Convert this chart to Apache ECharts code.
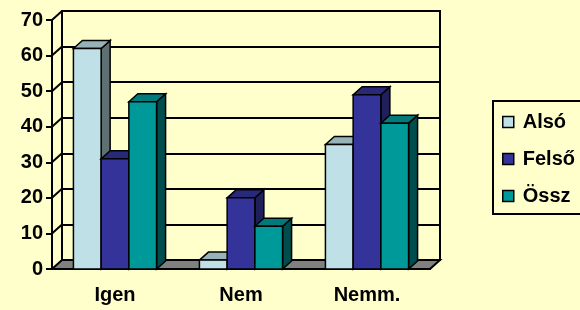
<!DOCTYPE html>
<html>
<head>
<meta charset="utf-8">
<script src="https://cdn.jsdelivr.net/npm/echarts@6/dist/echarts.min.js"></script>
<style>
  html, body { margin: 0; padding: 0; background: #FFFFCC; overflow: hidden; }
  #chart { width: 580px; height: 310px; }
</style>
</head>
<body>
<div id="chart"></div>
<script>
const categories = ["Igen", "Nem", "Nemm."];
const also = [62, 2.5, 35];
const felso = [31, 20, 49];
const ossz = [47, 12, 41];
const yTicks = [0, 10, 20, 30, 40, 50, 60, 70];

// depth of walls / bars
const DX = 10, DY = -9;
const BDX = 9, BDY = -8;
const FONT = "'Liberation Sans', Arial, sans-serif";

const el = document.getElementById("chart");
const chart = echarts.init(el);

function barSeries(name, values, idx, front, side, top) {
    return {
        name: name,
        type: "custom",
        xAxisIndex: 0,
        yAxisIndex: 0,
        itemStyle: { color: front },
        data: values.map((v, i) => [i, v]),
        renderItem: (params, api) => {
            const c = api.value(0);
            const p = api.coord([c, api.value(1)]);
            const p0 = api.coord([c, 0]);
            const bw = api.size([1, 0])[0] * 0.22;
            const left = p[0] + (idx - 1.5) * bw;
            const right = left + bw;
            const st = { stroke: "#000", lineWidth: 1.5 };
            return {
                type: "group",
                children: [
                    { type: "polygon", shape: { points: [[right, p[1]], [right + BDX, p[1] + BDY], [right + BDX, p0[1] + BDY], [right, p0[1]]] },
                      style: Object.assign({ fill: side }, st) },
                    { type: "polygon", shape: { points: [[left, p[1]], [left + BDX, p[1] + BDY], [right + BDX, p[1] + BDY], [right, p[1]]] },
                      style: Object.assign({ fill: top }, st) },
                    { type: "rect", shape: { x: left, y: p[1], width: bw, height: p0[1] - p[1] },
                      style: Object.assign({ fill: front }, st) }
                ]
            };
        }
    };
}

const labelStyle = { color: "#000", fontSize: 20, fontWeight: "bold", fontFamily: FONT };

chart.setOption({
    backgroundColor: "#FFFFCC",
    animation: false,
    grid: [
        { left: 52, right: 150, top: 20, bottom: 41 },
        { left: 62, right: 140, top: 11, bottom: 50, show: true, borderColor: "#000", borderWidth: 2, backgroundColor: "#FFFFCC" }
    ],
    // legend frame runs past the right edge in the original, so no right side
    graphic: [{
        type: "polyline", z: 0,
        shape: { points: [[600, 101], [493, 101], [493, 214], [600, 214]] },
        style: { fill: null, stroke: "#000", lineWidth: 2 }
    }],
    xAxis: [
        {
            type: "category", gridIndex: 0, data: categories,
            axisLine: { lineStyle: { color: "#000", width: 2 } },
            axisTick: { length: 6, lineStyle: { color: "#000", width: 2 } },
            axisLabel: Object.assign({ margin: 16 }, labelStyle)
        },
        { type: "category", gridIndex: 1, data: categories, show: false }
    ],
    yAxis: [
        {
            type: "value", gridIndex: 0, min: 0, max: 70, interval: 10,
            axisLine: { show: true, lineStyle: { color: "#000", width: 2 } },
            axisTick: { show: true, length: 6, lineStyle: { color: "#000", width: 2 } },
            axisLabel: Object.assign({ margin: 9 }, labelStyle),
            splitLine: { show: false }
        },
        {
            type: "value", gridIndex: 1, min: 0, max: 70, interval: 10,
            axisLine: { show: false }, axisTick: { show: false }, axisLabel: { show: false },
            splitLine: { show: true, lineStyle: { color: "#000", width: 2 } }
        }
    ],
    legend: {
        data: ["Alsó", "Felső", "Össz"],
        orient: "vertical",
        left: 494, top: 102,
        padding: [10, 0, 6, 8],
        borderWidth: 0,
        itemGap: 17,
        itemWidth: 11, itemHeight: 11,
        icon: "rect",
        itemStyle: { borderColor: "#000", borderWidth: 1.5 },
        textStyle: Object.assign({ lineHeight: 20, padding: [0, 0, 0, 4] }, labelStyle)
    },
    series: [
        {
            type: "custom",
            name: "frame",
            xAxisIndex: 0, yAxisIndex: 0,
            silent: true,
            data: yTicks.map(v => [0, v]),
            renderItem: (params, api) => {
                const cs = params.coordSys;
                const y = api.coord([0, api.value(1)])[1];
                const x0 = cs.x;
                if (api.value(1) === 0) {
                    const x1 = cs.x + cs.width;
                    return {
                        type: "polygon",
                        shape: { points: [[x0, y], [x1, y], [x1 + DX, y + DY], [x0 + DX, y + DY]] },
                        style: { fill: "#808080", stroke: "#000", lineWidth: 2 }
                    };
                }
                return {
                    type: "line",
                    shape: { x1: x0, y1: y, x2: x0 + DX, y2: y + DY },
                    style: { stroke: "#000", lineWidth: 2 }
                };
            }
        },
        barSeries("Alsó", also, 0, "#BEE0E6", "#5F7073", "#98B3B8"),
        barSeries("Felső", felso, 1, "#333399", "#1F1F5C", "#29297A"),
        barSeries("Össz", ossz, 2, "#009999", "#004D4D", "#007A7A")
    ]
});

new ResizeObserver(() => chart.resize()).observe(el);
</script>
</body>
</html>
